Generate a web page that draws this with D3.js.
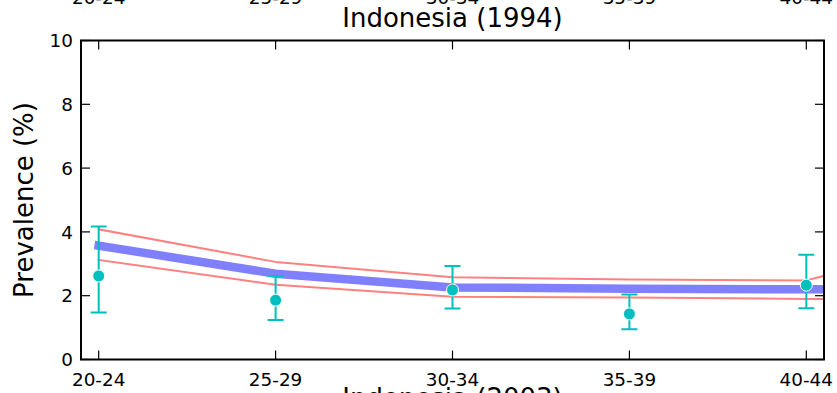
<!DOCTYPE html>
<html>
<head>
<meta charset="utf-8">
<script src="https://cdn.jsdelivr.net/npm/d3@7"></script>
<style>
  html, body { margin: 0; padding: 0; background: #fff; }
  svg { display: block; font-family: "DejaVu Sans", sans-serif; }
</style>
</head>
<body>
<svg id="chart" width="837" height="393"></svg>
<script>
// ---- data ----
const categories = ["20-24", "25-29", "30-34", "35-39", "40-44"];
const modelCategories = ["20-24", "25-29", "30-34", "35-39", "40-44", "45-49"];
const obsValue = [2.62, 1.86, 2.18, 1.43, 2.33];
const obsLower = [1.47, 1.24, 1.60, 0.95, 1.61];
const obsUpper = [4.17, 2.62, 2.93, 2.04, 3.28];
const modelMean  = [3.57, 2.69, 2.26, 2.22, 2.20, 2.20];
const modelUpper = [4.08, 3.06, 2.58, 2.51, 2.48, 3.90];
const modelLower = [3.12, 2.34, 1.97, 1.94, 1.90, 1.90];
const yTicks = [0, 2, 4, 6, 8, 10];
const titleText = "Indonesia (1994)";
const nextTitleText = "Indonesia (2003)";
const yLabelText = "Prevalence (%)";

(function () {
// ---- layout ----
const svg = d3.select("#chart");
const pL = 81, pR = 824, pT = 40.5, pB = 359.5;
const x = d3.scaleLinear().domain([-0.1, categories.length - 1 + 0.1]).range([pL, pR]);
const y = d3.scaleLinear().domain([0, 10]).range([pB, pT]);
const tickFont = 18.4;

svg.append("defs").append("clipPath").attr("id", "clip")
  .append("rect").attr("x", pL).attr("y", pT).attr("width", pR - pL).attr("height", pB - pT);

const plot = svg.append("g").attr("clip-path", "url(#clip)");

const lineOf = vals => d3.line().x((d, i) => x(i)).y(d => y(d))(vals);

// model bounds (red) and mean (blue)
[modelUpper, modelLower].forEach(vals => {
  plot.append("path").attr("d", lineOf(vals))
    .attr("fill", "none").attr("stroke", "#ff8080").attr("stroke-width", 2)
    .attr("stroke-linecap", "square").attr("stroke-linejoin", "round");
});
plot.append("path").attr("d", lineOf(modelMean))
  .attr("fill", "none").attr("stroke", "#8080ff").attr("stroke-width", 8.5)
  .attr("stroke-linecap", "square").attr("stroke-linejoin", "round");

// error bars
const obsColor = "#00bfbf";
const eb = plot.append("g");
categories.forEach((c, i) => {
  const cx = x(i);
  eb.append("line").attr("x1", cx).attr("x2", cx).attr("y1", y(obsLower[i])).attr("y2", y(obsUpper[i]))
    .attr("stroke", obsColor).attr("stroke-width", 2);
  [obsLower[i], obsUpper[i]].forEach(v => {
    eb.append("line").attr("x1", cx - 8).attr("x2", cx + 8).attr("y1", y(v)).attr("y2", y(v))
      .attr("stroke", obsColor).attr("stroke-width", 2);
  });
});
plot.append("g").selectAll("circle").data(obsValue).join("circle")
  .attr("cx", (d, i) => x(i)).attr("cy", d => y(d)).attr("r", 6)
  .attr("fill", obsColor).attr("stroke", "#fff").attr("stroke-width", 1);

// ---- axes (matplotlib classic style: inward ticks on all sides) ----
const ax = svg.append("g");
const tickLen = 9;
categories.forEach((c, i) => {
  const tx = x(i);
  ax.append("line").attr("x1", tx).attr("x2", tx).attr("y1", pB).attr("y2", pB - tickLen).attr("stroke", "#000").attr("stroke-width", 1.2);
  ax.append("line").attr("x1", tx).attr("x2", tx).attr("y1", pT).attr("y2", pT + tickLen).attr("stroke", "#000").attr("stroke-width", 1.2);
  ax.append("text").attr("x", tx).attr("y", 385.7).attr("text-anchor", "middle")
    .attr("font-size", tickFont).text(c);
  // tick labels of the subplot above, cut off at the top edge
  ax.append("text").attr("x", tx).attr("y", 4).attr("text-anchor", "middle")
    .attr("font-size", tickFont).text(c);
});
yTicks.forEach(v => {
  const ty = y(v);
  ax.append("line").attr("x1", pL).attr("x2", pL + tickLen).attr("y1", ty).attr("y2", ty).attr("stroke", "#000").attr("stroke-width", 1.2);
  ax.append("line").attr("x1", pR).attr("x2", pR - tickLen).attr("y1", ty).attr("y2", ty).attr("stroke", "#000").attr("stroke-width", 1.2);
  ax.append("text").attr("x", pL - 8).attr("y", ty).attr("dy", "0.36em").attr("text-anchor", "end")
    .attr("font-size", tickFont).text(v);
});
ax.append("rect").attr("x", pL).attr("y", pT).attr("width", pR - pL).attr("height", pB - pT)
  .attr("fill", "none").attr("stroke", "#000").attr("stroke-width", 2);

// titles and labels
svg.append("text").attr("x", (pL + pR) / 2).attr("y", 27).attr("text-anchor", "middle")
  .attr("font-size", 26).text(titleText);
svg.append("text").attr("x", (pL + pR) / 2).attr("y", 407).attr("text-anchor", "middle")
  .attr("font-size", 26).text(nextTitleText);
svg.append("text").attr("transform", `translate(33,${(pT + pB) / 2}) rotate(-90)`)
  .attr("text-anchor", "middle").attr("font-size", 26).text(yLabelText);
})();
</script>
</body>
</html>
